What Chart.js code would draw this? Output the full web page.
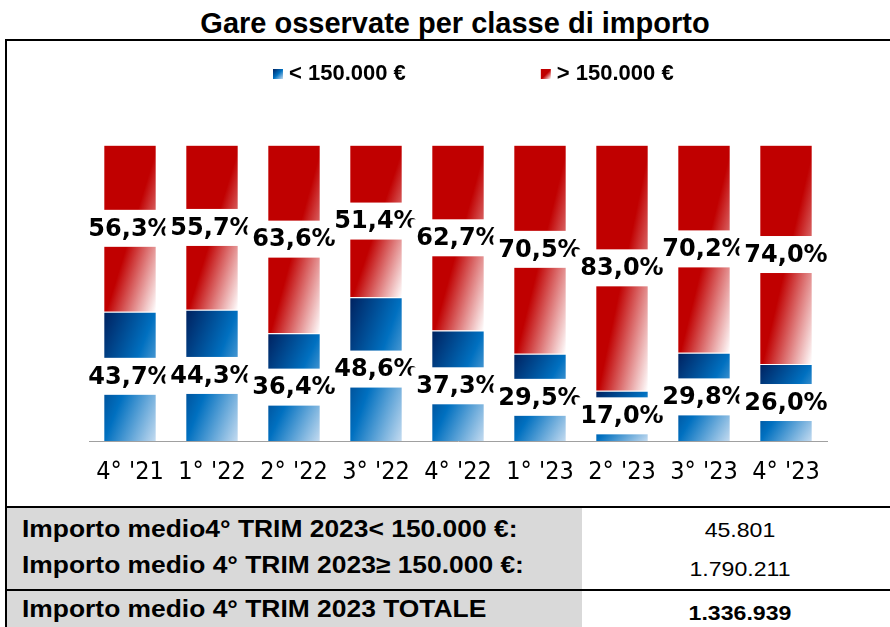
<!DOCTYPE html>
<html>
<head>
<meta charset="utf-8">
<script src="https://cdn.jsdelivr.net/npm/chart.js@4.4.0/dist/chart.umd.min.js"></script>
<style>
    body { margin: 0; width: 890px; height: 627px; overflow: hidden; background: #fff; position: relative;
        font-family: "Liberation Sans", Arial, sans-serif; color: #000; }
    #title { position: absolute; left: 0; top: 9px; width: 910px; text-align: center;
        font-weight: bold; font-size: 29px; line-height: 29px; white-space: nowrap; }
    #frame { position: absolute; left: 5px; top: 39px; width: 900px; height: 600px;
        border-top: 2px solid #000; border-left: 2px solid #000; }
    #chartBox { position: absolute; left: 7px; top: 41px; width: 883px; height: 464px; }
    .hline { position: absolute; left: 5px; width: 890px; height: 2px; background: #000; }
    .grey { position: absolute; left: 7px; width: 575px; background: #d9d9d9; }
    .lbl { position: absolute; left: 22px; font-weight: bold; font-size: 24px; line-height: 24px;
        white-space: nowrap; transform: scaleX(1.1); transform-origin: left center; }
    .val { position: absolute; left: 640px; width: 200px; text-align: center; font-size: 21px;
        line-height: 21px; white-space: nowrap; transform: scaleX(1.1); transform-origin: center center; }
</style>
</head>
<body>
<div id="title">Gare osservate per classe di importo</div>
<div id="frame"></div>
<div id="chartBox"><canvas id="gareChart"></canvas></div>
<div class="hline" style="top:506px"></div>
<div class="grey" style="top:508px;height:82px"></div>
<div class="hline" style="top:589px"></div>
<div class="grey" style="top:591px;height:40px"></div>
<div id="table"></div>
<script>
const categories = ["4° '21", "1° '22", "2° '22", "3° '22", "4° '22", "1° '23", "2° '23", "3° '23", "4° '23"];
const seriesLabels = ['< 150.000 €', '> 150.000 €'];
const sottoSoglia = [43.7, 44.3, 36.4, 48.6, 37.3, 29.5, 17.0, 29.8, 26.0];
const sopraSoglia = [56.3, 55.7, 63.6, 51.4, 62.7, 70.5, 83.0, 70.2, 74.0];

const tableLabels = [
    'Importo medio4° TRIM 2023< 150.000 €:',
    'Importo medio 4° TRIM 2023≥ 150.000 €:',
    'Importo medio 4° TRIM 2023 TOTALE'
];
const tableValues = ['45.801', '1.790.211', '1.336.939'];

const blueStops = [[0, '#00215f'], [0.5, '#0070c0'], [1, '#c4dbf0']];
const redStops = [[0, '#c00000'], [0.52, '#c00000'], [1, '#ffffff']];
const BAR_PCT = 0.63;

// table under the chart
const labelTops = [517, 553, 597];
const valueTops = [519, 558, 602];
const table = document.getElementById('table');
tableLabels.forEach((txt, i) => {
    const l = document.createElement('div');
    l.className = 'lbl';
    l.style.top = labelTops[i] + 'px';
    l.textContent = txt;
    table.appendChild(l);
    const v = document.createElement('div');
    v.className = 'val';
    v.style.top = valueTops[i] + 'px';
    if (i === 2) v.style.fontWeight = 'bold';
    v.textContent = tableValues[i];
    table.appendChild(v);
});

// excel-like diagonal gradient: isolines run parallel to the top-right/bottom-left diagonal
function diagGradient(ctx, x0, y0, x1, y1, stops) {
    const w = x1 - x0, h = y1 - y0;
    const cx = (x0 + x1) / 2, cy = (y0 + y1) / 2;
    const k = (w * h) / (w * w + h * h || 1);
    const g = ctx.createLinearGradient(cx - h * k, cy - w * k, cx + h * k, cy + w * k);
    stops.forEach(s => g.addColorStop(s[0], s[1]));
    return g;
}

function segmentFill(stops) {
    return c => {
        const chart = c.chart;
        if (c.type !== 'data' || !chart.chartArea) return stops[1][1];
        const xs = chart.scales.x, ys = chart.scales.y;
        let base = 0;
        for (let d = 0; d < c.datasetIndex; d++) base += chart.data.datasets[d].data[c.dataIndex];
        const val = chart.data.datasets[c.datasetIndex].data[c.dataIndex];
        const cx = xs.getPixelForValue(c.dataIndex);
        const half = (xs.width / categories.length) * BAR_PCT / 2;
        return diagGradient(chart.ctx, cx - half, ys.getPixelForValue(base + val),
            cx + half, ys.getPixelForValue(base), stops);
    };
}

const fmt = v => v.toFixed(1).replace('.', ',') + '%';

const labelBoxes = {
    id: 'labelBoxes',
    afterDatasetsDraw(chart) {
        const ctx = chart.ctx;
        ctx.save();
        ctx.font = 'bold 24px "DejaVu Sans"';
        ctx.textAlign = 'center';
        ctx.textBaseline = 'middle';
        chart.data.datasets.forEach((ds, di) => {
            chart.getDatasetMeta(di).data.forEach((bar, i) => {
                const txt = fmt(ds.data[i]);
                const cy = (bar.y + bar.base) / 2;
                const w = ctx.measureText(txt).width + 10;
                ctx.fillStyle = '#fff';
                ctx.fillRect(bar.x - w / 2, cy - 18.5, w, 37);
                ctx.fillStyle = '#000';
                ctx.fillText(txt, bar.x, cy + 1);
            });
        });
        ctx.restore();
    }
};

const legendRow = {
    id: 'legendRow',
    afterDraw(chart) {
        const ctx = chart.ctx;
        ctx.save();
        ctx.font = 'bold 22px "Liberation Sans"';
        ctx.textBaseline = 'middle';
        let x = 266;
        const y = 33;
        chart.data.datasets.forEach(ds => {
            ctx.fillStyle = diagGradient(ctx, x, y - 5, x + 10, y + 5, ds.stops);
            ctx.fillRect(x, y - 5, 10, 10);
            ctx.fillStyle = '#000';
            ctx.fillText(ds.label, x + 16, y);
            x += 16 + ctx.measureText(ds.label).width + 135;
        });
        ctx.restore();
    }
};

const ctx = document.getElementById('gareChart').getContext('2d');
new Chart(ctx, {
    type: 'bar',
    data: {
        labels: categories,
        datasets: [
            {
                label: seriesLabels[0], data: sottoSoglia, stops: blueStops,
                backgroundColor: segmentFill(blueStops),
                borderColor: '#ffffff', borderWidth: { top: 1, left: 0, right: 0, bottom: 0 },
                barPercentage: BAR_PCT, categoryPercentage: 1
            },
            {
                label: seriesLabels[1], data: sopraSoglia, stops: redStops,
                backgroundColor: segmentFill(redStops),
                borderColor: '#f3cccc', borderWidth: { top: 1, left: 0, right: 0, bottom: 0 },
                barPercentage: BAR_PCT, categoryPercentage: 1
            }
        ]
    },
    options: {
        responsive: true,
        maintainAspectRatio: false,
        animation: false,
        layout: { padding: { top: 104, left: 82, right: 63, bottom: 2 } },
        scales: {
            x: {
                stacked: true,
                grid: { display: false, drawTicks: false },
                border: { display: true, color: '#a0a0a0', width: 1 },
                ticks: {
                    color: '#000', padding: 16,
                    font: { family: '"DejaVu Sans Condensed", "DejaVu Sans"', size: 25 }
                }
            },
            y: { stacked: true, display: false, min: 0, max: 100 }
        },
        plugins: {
            legend: { display: false },
            tooltip: { enabled: false }
        }
    },
    plugins: [labelBoxes, legendRow]
});
</script>
</body>
</html>
